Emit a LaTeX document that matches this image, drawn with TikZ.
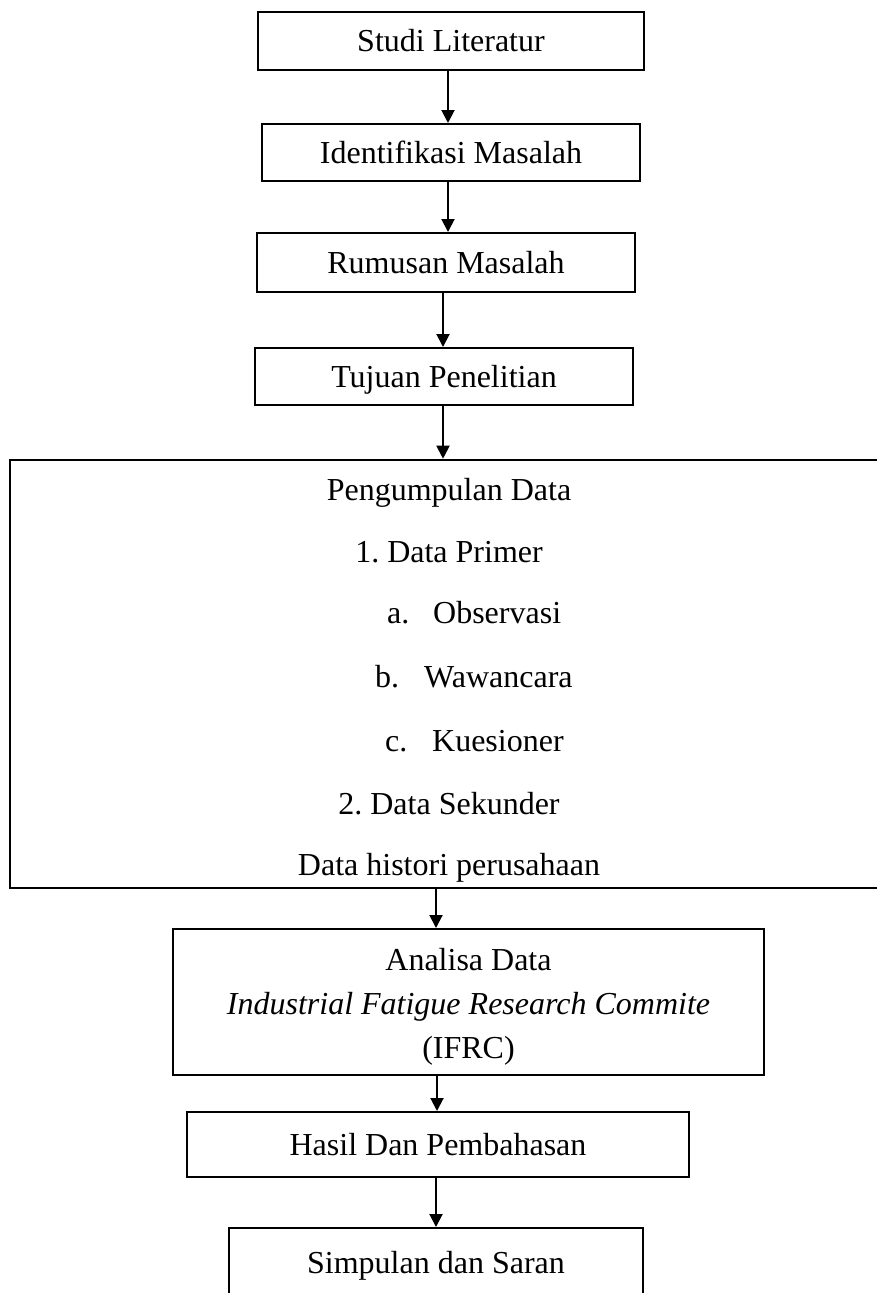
\documentclass[tikz,border=0pt]{standalone}
\usepackage{fontspec}
\setmainfont{Liberation Serif}
\usetikzlibrary{arrows.meta}
\frenchspacing
\tikzset{
  flowbox/.style={draw=black, line width=2pt, rectangle, inner sep=0pt,
    font=\fontsize{32}{38}\selectfont, text height=21.2pt, text depth=0pt, fill=white},
  bigbox/.style={draw=black, line width=2.6pt, rectangle, inner sep=0pt, fill=white},
  label/.style={inner sep=0pt, anchor=base, font=\fontsize{32}{38}\selectfont},
  arr/.style={line width=2pt, -{Triangle[length=13pt,width=13pt]}},
}
\begin{document}
\begin{tikzpicture}[x=1pt,y=-1pt]
\useasboundingbox[fill=white] (0,0) rectangle (877,1293);

\node[flowbox, minimum width=386pt, minimum height=58pt] (b1) at (451,41) {Studi Literatur};
\node[flowbox, minimum width=378pt, minimum height=57pt] (b2) at (451,152.5) {Identifikasi Masalah};
\node[flowbox, minimum width=378pt, minimum height=59pt] (b3) at (446,262.5) {Rumusan Masalah};
\node[flowbox, minimum width=378pt, minimum height=57pt] (b4) at (444,376.5) {Tujuan Penelitian};

\node[bigbox, minimum width=880pt, minimum height=428pt] (pd) at (450,674) {};
\node[label] (t1) at (449,500) {Pengumpulan Data};
\node[label] (t2) at (449,562) {1.\ Data Primer};
\node[label, anchor=base west] (t3) at (387,623) {\makebox[46pt][l]{a.}Observasi};
\node[label, anchor=base west] (t4) at (375,687) {\makebox[49pt][l]{b.}Wawancara};
\node[label, anchor=base west] (t5) at (385,751) {\makebox[47pt][l]{c.}Kuesioner};
\node[label] (t6) at (449,814) {2.\ Data Sekunder};
\node[label] (t7) at (449,875) {Data histori perusahaan};

\node[bigbox, line width=2pt, minimum width=591pt, minimum height=146pt] (an) at (468.5,1002) {};
\node[label] (t8) at (468.5,970) {Analisa Data};
\node[label] (t9) at (468.5,1014) {\itshape Industrial Fatigue Research Commite};
\node[label] (t10) at (468.5,1058) {(IFRC)};

\node[flowbox, minimum width=502pt, minimum height=65pt] (hs) at (438,1144.5) {Hasil Dan Pembahasan};
\node[flowbox, minimum width=414pt, minimum height=70pt] (sp) at (436,1263) {Simpulan dan Saran};

\draw[arr] ([xshift=-3pt]b1.south) -- ([xshift=-3pt]b1.south |- b2.north);
\draw[arr] ([xshift=-3pt]b2.south) -- ([xshift=-3pt]b2.south |- b3.north);
\draw[arr] ([xshift=-3pt]b3.south) -- ([xshift=-3pt]b3.south |- b4.north);
\draw[arr] ([xshift=-1pt]b4.south) -- ([xshift=-1pt]b4.south |- pd.north);
\draw[arr] ([xshift=-14pt]pd.south) -- ([xshift=-14pt]pd.south |- an.north);
\draw[arr] ([xshift=-31.5pt]an.south) -- ([xshift=-31.5pt]an.south |- hs.north);
\draw[arr] ([xshift=-2pt]hs.south) -- ([xshift=-2pt]hs.south |- sp.north);
\end{tikzpicture}
\end{document}
